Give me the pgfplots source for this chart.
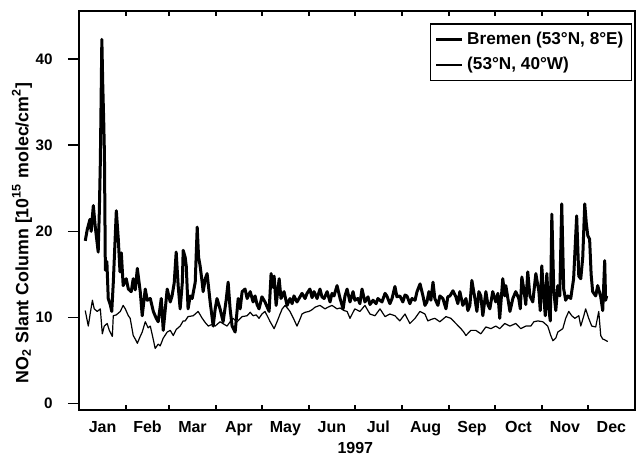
\documentclass[border=0pt]{standalone}
\usepackage{fontspec}
\setmainfont{Liberation Sans}
\usepackage{pgfplots}
\usepackage{pgfplotstable}
\pgfplotsset{compat=1.18}

% Daily NO2 slant columns against day of year 1997
\pgfplotstableread{
day no2
4.1 18.9
5.4 20.2
7.2 21.4
8.0 20.0
9.4 23.0
10.7 20.5
12.6 17.6
13.3 22.0
14.0 28.0
15.0 42.3
15.6 37.0
16.2 33.0
16.7 29.0
17.3 15.5
18.3 16.5
19.2 12.2
20.5 11.5
21.5 10.7
22.5 14.0
24.5 22.4
25.8 19.1
26.9 15.3
27.8 17.5
29.0 13.7
31.0 14.5
32.4 13.3
34.3 13.0
35.6 14.5
36.9 13.2
38.3 15.7
40.2 13.0
41.5 10.2
43.5 13.3
44.8 12.0
46.8 12.2
48.8 10.7
50.7 9.9
52.0 9.5
54.0 12.2
55.3 8.5
57.9 13.3
59.9 11.8
61.1 12.5
62.5 14.0
63.8 17.6
65.1 13.7
66.4 11.0
67.8 14.0
68.4 17.8
69.7 17.0
70.4 16.0
71.6 11.0
73.0 12.5
74.3 12.2
76.3 14.1
77.6 20.5
78.5 17.0
79.5 16.0
80.9 14.0
81.5 13.0
82.9 14.5
84.1 15.1
86.1 11.8
88.1 9.0
89.4 11.0
90.6 12.2
92.6 11.0
94.6 9.5
96.6 12.0
97.9 14.1
99.2 11.0
100.5 9.0
102.5 8.3
104.5 12.2
105.8 11.0
107.1 13.0
109.0 13.3
110.4 12.2
112.4 13.0
114.3 11.8
115.6 12.5
116.9 11.5
118.2 11.0
120.1 12.4
122.1 11.8
124.8 10.7
126.1 15.1
127.4 13.5
128.1 14.8
129.4 11.4
131.4 14.5
132.6 12.2
134.6 13.0
136.6 11.4
138.5 12.2
139.9 11.6
141.1 12.5
143.1 11.8
145.1 12.4
146.4 12.8
148.4 12.2
149.7 12.8
151.6 13.3
153.0 12.3
154.3 13.0
156.3 12.2
158.2 13.3
159.5 12.4
160.9 12.2
162.9 13.0
164.8 11.8
166.1 12.8
167.4 12.5
169.4 13.7
171.4 12.2
173.4 11.0
174.6 12.5
176.0 13.3
177.9 11.8
179.9 13.0
181.1 12.0
183.1 12.2
184.4 11.6
185.8 13.3
187.7 11.8
189.7 12.4
191.0 11.5
193.0 12.0
195.0 11.6
196.2 12.2
198.9 11.8
200.9 12.8
202.1 12.5
204.1 11.6
205.5 12.2
207.4 13.6
208.7 12.4
210.6 12.5
212.6 11.8
214.0 12.6
215.3 12.5
217.2 11.6
218.6 12.2
220.6 12.0
221.9 13.0
223.9 13.9
225.8 12.5
227.1 11.4
228.4 11.8
229.7 13.0
231.0 12.0
232.4 14.1
233.6 12.2
235.6 11.4
236.9 12.5
238.9 12.2
240.9 11.0
242.1 12.4
243.5 12.5
245.5 13.1
247.4 12.4
248.7 11.6
250.0 13.0
252.0 11.4
254.0 12.2
255.3 10.8
256.6 11.4
257.9 14.3
259.9 12.2
261.2 10.7
262.5 13.0
263.8 12.5
265.1 10.2
267.1 13.0
268.4 11.5
269.7 11.0
271.6 13.0
273.6 11.8
275.0 12.8
276.2 9.9
278.2 14.5
279.5 12.5
280.2 13.7
282.9 10.7
284.8 12.2
286.7 13.0
288.7 12.2
289.7 11.0
290.7 14.7
292.0 13.3
293.3 11.5
294.6 15.3
296.0 12.5
297.9 11.8
299.9 15.1
301.9 13.0
302.8 10.8
303.8 16.0
305.1 12.5
306.1 10.2
307.1 15.1
308.4 11.0
309.4 9.6
310.4 22.0
311.7 13.0
313.0 10.8
314.3 13.7
315.6 12.5
316.9 23.2
318.2 13.3
319.5 12.0
320.9 12.5
322.8 12.2
324.7 14.5
326.7 21.8
328.1 14.8
329.4 14.5
330.7 17.0
332.0 23.2
333.0 21.0
334.0 19.5
335.2 19.1
336.2 15.0
337.2 13.0
339.2 12.5
340.5 13.7
342.5 12.4
343.8 10.8
345.1 16.6
345.7 12.0
346.4 12.5
}\bremen

\pgfplotstableread{
day no2
4.1 10.8
6.1 9.0
7.4 10.5
8.8 12.0
10.0 11.0
12.0 10.7
14.0 11.0
15.3 8.1
16.6 9.0
18.5 9.3
19.9 8.5
21.9 7.8
22.5 10.2
24.5 10.3
27.1 10.7
29.0 11.4
30.4 11.0
32.4 10.2
33.6 9.9
35.6 7.9
36.9 7.5
38.3 7.0
40.2 7.8
41.5 8.3
43.5 9.5
45.4 8.8
46.8 9.0
48.7 7.5
50.0 6.4
52.0 6.9
53.3 6.7
55.3 7.6
57.9 8.3
59.9 8.5
61.9 7.9
63.8 8.6
66.4 9.0
68.4 9.6
69.7 9.6
71.6 10.1
75.0 10.2
78.2 10.7
80.9 9.9
82.9 9.4
84.9 9.0
87.4 9.2
89.4 9.0
92.6 9.5
95.3 9.2
97.2 9.0
99.2 9.5
101.1 9.9
103.8 9.5
107.1 10.1
110.4 10.2
112.4 10.6
114.3 10.2
116.3 10.3
118.2 9.9
120.1 10.4
122.1 10.7
124.1 10.0
125.5 9.5
128.1 8.7
130.0 9.5
132.0 10.4
133.4 11.0
135.3 11.4
137.2 11.0
138.5 10.7
140.5 10.0
143.1 9.0
145.1 9.8
146.4 10.4
148.4 10.6
151.0 10.7
153.0 10.9
155.0 11.2
158.2 11.4
161.5 11.0
163.5 11.2
166.1 11.4
169.4 11.0
171.4 11.1
174.0 10.8
176.0 10.7
177.9 9.9
179.9 10.6
181.1 11.0
184.4 10.7
187.7 11.4
191.0 10.4
194.3 10.2
197.6 11.0
200.9 10.1
204.1 10.4
207.4 10.2
210.6 9.6
214.0 10.4
217.2 9.3
220.6 9.9
223.8 10.7
227.1 10.4
229.0 9.6
231.6 9.8
233.6 9.9
236.9 9.5
238.9 9.8
240.9 10.1
244.1 9.9
247.4 9.3
250.7 8.7
252.6 8.3
254.0 7.9
257.2 8.5
260.5 8.5
263.8 8.1
267.1 8.9
270.4 8.7
273.6 9.0
276.2 8.7
279.5 9.3
282.9 9.0
286.7 9.3
290.0 8.7
293.4 9.0
296.6 9.0
298.6 9.5
301.2 9.6
304.5 9.5
307.7 9.0
309.7 7.9
311.1 7.3
313.0 7.6
314.3 8.3
317.6 8.7
319.5 9.9
321.5 10.7
323.5 10.2
325.5 9.9
328.1 10.2
329.4 9.0
331.4 10.2
332.6 11.0
334.6 9.9
336.6 9.0
339.2 8.9
341.2 10.7
342.5 7.9
343.8 7.5
345.1 7.4
347.1 7.2
}\atlantic

\begin{document}
\begin{tikzpicture}
\path[use as bounding box] (-39.5pt,-22.5pt) rectangle (278.5pt,205pt);
\begin{axis}[
  scale only axis,
  width=278pt, height=199.5pt,
  xmin=0, xmax=365,
  ymin=-0.75, ymax=45.6,
  axis line style={line width=0.9pt},
  tick style={line width=0.8pt, black},
  major tick length=2.6pt,
  xtick pos=both,
  /pgf/number format/assume math mode=true,
  ticklabel style={font=\bfseries\fontsize{8}{10}\selectfont},
  % ticks at the first of each month, names at mid-month
  xtick={31,59,90,120,151,181,212,243,273,304,334},
  xticklabels={},
  extra x ticks={15.5,45,74.5,105,135.5,166,196.5,227.5,258,288.5,319,349.5},
  extra x tick labels={Jan,Feb,Mar,Apr,May,Jun,Jul,Aug,Sep,Oct,Nov,Dec},
  extra x tick style={major tick length=0pt},
  xticklabel style={anchor=base, inner sep=0pt, yshift=-11pt},
  ytick=\empty,
  extra y ticks={0,10,20,30,40},
  extra y tick style={major tick length=5.5pt},
  ytick pos=left,
  ytick align=outside,
  yticklabel style={anchor=east, inner sep=0pt, xshift=-7.5pt,
    font=\bfseries\fontsize{7.6}{10}\selectfont},
  xlabel={1997},
  xlabel style={font=\bfseries\fontsize{8}{10}\selectfont,
    at={(axis description cs:0.497,0)}, anchor=base, inner sep=0pt, yshift=-21.5pt},
  ylabel={NO\textsubscript{2} Slant Column [10\textsuperscript{15} molec/cm\textsuperscript{2}]},
  ylabel style={font=\bfseries\fontsize{8.9}{10}\selectfont,
    at={(axis description cs:-0.1025,0.444)}, anchor=center, inner sep=0pt},
  legend style={at={(0.995,0.97)}, anchor=north east, draw=black, line width=0.8pt,
    font=\bfseries\fontsize{8.6}{10}\selectfont, inner sep=2pt, row sep=1pt,
    cells={anchor=west}},
  legend image code/.code={\draw[#1] (0cm,0cm) -- (0.45cm,0cm);},
]
\addplot[black, line width=1.5pt, line join=round] table[x=day, y=no2] {\bremen};
\addlegendentry{Bremen (53°N, 8°E)}
\addplot[black, line width=0.6pt, line join=round] table[x=day, y=no2] {\atlantic};
\addlegendentry{(53°N, 40°W)}
% second, thinner rule standing just outside the left frame
\draw[line width=0.6pt] (axis description cs:0,0) -- (axis description cs:-0.0198,0)
  -- (axis description cs:-0.0198,0.985);
\end{axis}
\end{tikzpicture}
\end{document}
